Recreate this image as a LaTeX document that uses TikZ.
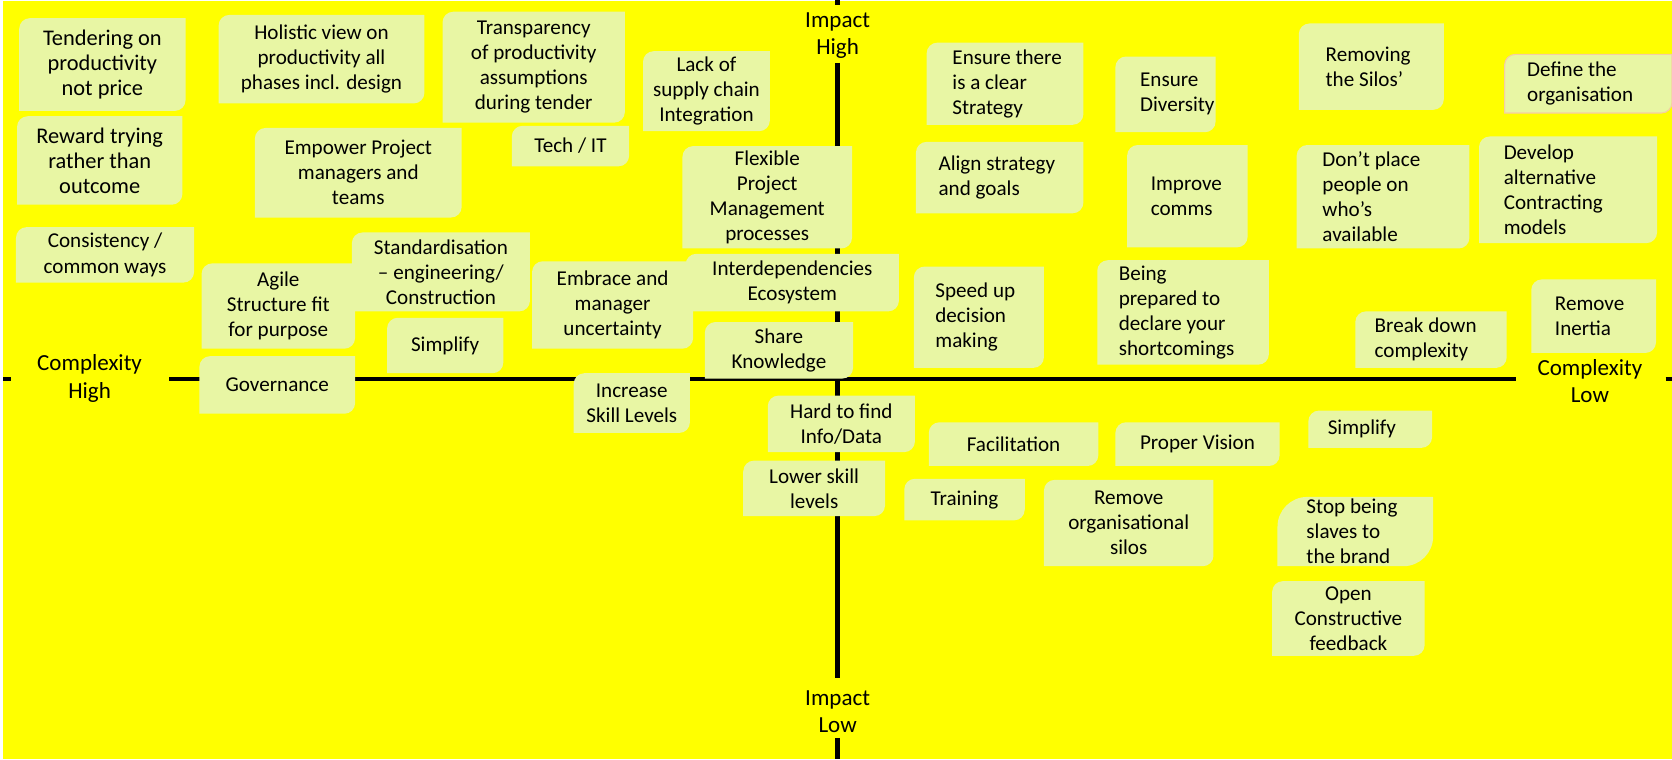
\documentclass[tikz,border=0pt]{standalone}
\usepackage{fontspec}
\setmainfont{Carlito}

\definecolor{board}{RGB}{255,255,0}
\definecolor{note}{RGB}{232,246,164}
\definecolor{noteedge}{RGB}{246,206,162}

\pgfdeclarelayer{backdrop}
\pgfdeclarelayer{paper}
\pgfsetlayers{backdrop,paper,main}

\tikzset{
  txt/.style={inner sep=0pt, align=center, font=\fontsize{19.8}{23.5}\selectfont},
  bigtxt/.style={font=\fontsize{21}{23.5}\selectfont},
  ltxt/.style={txt, align=left, anchor=west},
  axislabel/.style={inner sep=0pt, align=center, font=\fontsize{21.6}{26}\selectfont},
  axisline/.style={line width=4.5pt},
  notefill/.style={fill=note},
}

% sticky note: top-left and bottom-right corners rounded
\def\noteradius{10}
\newcommand\notepath[5][]{%
  \begin{pgfonlayer}{paper}
    \path[notefill,#1] (#2,#5) -- (#2,#3+\noteradius)
      arc[start angle=180,end angle=90,radius=\noteradius pt] -- (#4,#3)
      -- (#4,#5-\noteradius)
      arc[start angle=0,end angle=-90,radius=\noteradius pt] -- cycle;
  \end{pgfonlayer}}
% centred text: [extra text style], name, x1, y1, x2, y2, text
\newcommand\CNote[6][]{%
  \notepath{#3}{#4}{#5}{#6}%
  \node[txt,#1] (#2) at ({(#3+#5)/2},{(#4+#6)/2}) {\CNoteText};}
\newcommand\CNoteText{}
\newcommand\CN[7][]{\renewcommand\CNoteText{#7}\CNote[#1]{#2}{#3}{#4}{#5}{#6}}
% left aligned text: name, x1, y1, x2, y2, left padding, text
\newcommand\LNote[7]{%
  \notepath{#2}{#3}{#4}{#5}%
  \node[ltxt] (#1) at ({#2+#6},{(#3+#5)/2}) {#7};}

\begin{document}
\begin{tikzpicture}[x=1pt,y=-1pt]
\useasboundingbox (0,0) rectangle (1568,712);
\begin{pgfonlayer}{backdrop}
  \fill[white] (0,0) rectangle (1568,712);
  \fill[board] (3,1) rectangle (1568,712);
\end{pgfonlayer}

% axis labels
\node[axislabel] (ihigh) at (785.5,33.5) {Impact\\High};
\node[axislabel] (ilow) at (785.5,667.5) {Impact\\Low};
\node[axislabel] (chigh) at (84,355) {Complexity\\High};
\node[axislabel] (clow) at (1491,357.5) {Complexity\\Low};

% axis end points
\coordinate (vt0) at (785.5,0);
\coordinate (vt1) at (785.5,4.5);
\coordinate (va0) at (785.5,59);
\coordinate (va1) at (785.5,636);
\coordinate (vb0) at (785.5,692);
\coordinate (vb1) at (785.5,712);
\coordinate (hl0) at (3,355.5);
\coordinate (hl1) at (10,355.5);
\coordinate (ha0) at (158.5,355.5);
\coordinate (ha1) at (1422,355.5);
\coordinate (hr0) at (1562,355.5);
\coordinate (hr1) at (1568,355.5);
\begin{pgfonlayer}{backdrop}
  \draw[axisline] (vt0) -- (vt1) (va0) -- (va1) (vb0) -- (vb1);
  \draw[axisline] (hl0) -- (hl1) (ha0) -- (ha1) (hr0) -- (hr1);
\end{pgfonlayer}

% high complexity side
\CN[bigtxt]{tender}{18}{17}{174}{104}{Tendering on\\productivity\\not price}
\CN{holistic}{205}{14}{398}{97}{Holistic view on\\productivity all\\phases incl. design}
\CN{transp}{415}{11}{586}{115}{Transparency\\of productivity\\assumptions\\during tender}
\CN{supply}{603}{48}{722}{123}{Lack of\\supply chain\\Integration}
\CN[bigtxt]{reward}{16}{109}{171}{192}{Reward trying\\rather than\\outcome}
\CN{empower}{239}{120}{433}{204}{Empower Project\\managers and\\teams}
\CN{techit}{480}{118}{590}{156}{Tech / IT}
\CN{flexpm}{640}{137}{799}{233}{Flexible\\Project\\Management\\processes}
\CN{consist}{15}{213}{182}{265}{Consistency /\\common ways}
\CN{agile}{189}{247}{333}{327}{Agile\\Structure fit\\for purpose}
\CN{standard}{330}{218}{497}{292}{Standardisation\\– engineering/\\Construction}
\CN{embrace}{499}{245}{650}{327}{Embrace and\\manager\\uncertainty}
\CN{interdep}{643}{238}{843}{292}{Interdependencies\\Ecosystem}
\CN{simpleft}{363}{298}{472}{350}{Simplify}
\CN{share}{661}{302}{800}{355}{Share\\Knowledge}
\CN{govern}{187}{334}{333}{388}{Governance}
\CN{skills}{538}{350}{647}{406}{Increase\\Skill Levels}
\CN{hardinfo}{720}{371}{858}{424}{Hard to find\\Info/Data}
\CN{lowskill}{697}{432}{830}{484}{Lower skill\\levels}

% low complexity side
\LNote{strategy}{869}{40}{1016}{117}{24}{Ensure there\\is a clear\\Strategy}
\LNote{goals}{859}{133}{1016}{200}{21}{Align strategy\\and goals}
\LNote{speed}{857}{250}{979}{345}{20}{Speed up\\decision\\making}
\LNote{diversity}{1046}{53}{1140}{124}{23}{Ensure\\Diversity}
\LNote{comms}{1057}{136}{1170}{232}{22}{Improve\\comms}
\LNote{shortcome}{1029}{244}{1190}{342}{20}{Being\\prepared to\\declare your\\shortcomings}
\LNote{silos}{1218}{22}{1354}{103}{25}{Removing\\the Silos’}
\notepath[draw=noteedge,line width=1pt]{1411}{51}{1568}{106}
\node[ltxt] (organise) at (1432,78.5) {Define the\\organisation};
\LNote{dontplace}{1216}{136}{1378}{233}{24}{Don’t place\\people on\\who’s\\available}
\LNote{contract}{1387}{128}{1554}{228}{23}{Develop\\alternative\\Contracting\\models}
\LNote{breakdown}{1271}{292}{1413}{345}{18}{Break down\\complexity}
\LNote{inertia}{1436}{262}{1553}{331}{22}{Remove\\Inertia}
\CN{facil}{871}{396}{1030}{437}{Facilitation}
\CN{vision}{1046}{396}{1200}{437}{Proper Vision}
\LNote{simpright}{1227}{385}{1343}{420}{18}{Simplify}
\CN{training}{848}{449}{961}{488}{Training}
\CN{orgsilos}{979}{450}{1138}{531}{Remove\\organisational\\silos}
{\def\noteradius{28}%
 \LNote{brand}{1198}{466}{1344}{531}{27}{Stop being\\slaves to\\the brand}}
\CN{feedback}{1193}{545}{1336}{615}{Open\\Constructive\\feedback}
\end{tikzpicture}
\end{document}
